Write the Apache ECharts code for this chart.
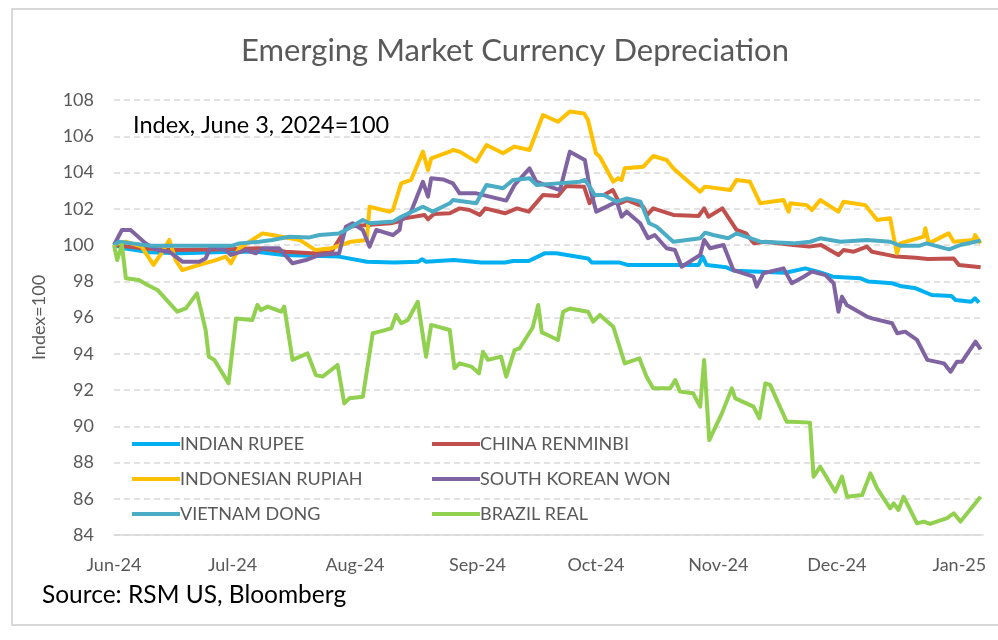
<!DOCTYPE html>
<html>
<head>
<meta charset="utf-8">
<script src="https://cdn.jsdelivr.net/npm/echarts@6/dist/echarts.min.js"></script>
<style>
  html, body { margin: 0; padding: 0; background: #fff; }
  #chart { width: 998px; height: 640px; }
</style>
</head>
<body>
<div id="chart"></div>
<script>
// x values: days since June 3, 2024 (index base date)
const tickDays = [0, 30, 61, 92, 122, 153, 183, 214];
const tickLabels = ['Jun-24', 'Jul-24', 'Aug-24', 'Sep-24', 'Oct-24', 'Nov-24', 'Dec-24', 'Jan-25'];
const yTicks = [84, 86, 88, 90, 92, 94, 96, 98, 100, 102, 104, 106, 108];

const seriesNames = ['INDIAN RUPEE', 'CHINA RENMINBI', 'INDONESIAN RUPIAH', 'SOUTH KOREAN WON', 'VIETNAM DONG', 'BRAZIL REAL'];

const indianRupee = [
  [0,100.0],[3,99.8],[9,99.6],[17,99.54],[30,99.63],[36,99.63],[43,99.45],[57,99.36],[64,99.08],
  [71,99.03],[77,99.08],[78,99.21],[79,99.08],[86,99.17],[93,99.03],[99,99.03],[101,99.12],
  [105,99.12],[109,99.54],[112,99.54],[120,99.26],[121,99.03],[128,99.03],[130,98.9],[148,98.9],
  [149,99.36],[150,98.9],[155,98.77],[157,98.58],[170,98.47],[175,98.71],[179,98.47],[182,98.25],
  [189,98.16],[191,97.98],[197,97.89],[199,97.74],[203,97.61],[207,97.24],[212,97.19],[213,96.97],
  [217,96.87],[218,97.06],[219,96.82]
];

const chinaRenminbi = [
  [0,100.0],[8,99.8],[15.6,99.72],[25,99.75],[36.8,99.82],[43.5,99.63],[50,99.54],[55,99.6],
  [59,101.0],[64,101.1],[70,101.2],[72,101.3],[73.5,101.47],[78.6,101.66],[79.5,101.42],
  [81,101.71],[85,101.75],[87.5,102.02],[90,101.93],[92.6,101.66],[94,102.02],[99,101.75],
  [102,102.02],[105,101.84],[108.6,102.76],[112.4,102.7],[114.5,103.26],[119,103.22],
  [120.4,102.3],[121.7,102.76],[124,102.76],[126.3,103.03],[128,102.3],[129.9,102.48],
  [134,102.11],[135,101.66],[136.5,102.02],[141.6,101.66],[148,101.6],[149.4,102.02],
  [150.5,101.56],[154,102.02],[157.6,100.83],[160,100.64],[162,100.09],[165,100.18],
  [172,100.0],[176,99.91],[179,100.0],[183.4,99.45],[184.7,99.72],[187.3,99.63],[190.6,99.91],
  [191.9,99.63],[198,99.36],[203,99.3],[206,99.23],[212.6,99.26],[213.9,98.9],[219.4,98.77]
];

const indonesianRupiah = [
  [0,100.04],[3,100.18],[7,99.91],[10,98.9],[12,99.54],[14,100.28],[15.6,99.17],[17.3,98.62],
  [21.6,98.9],[25.8,99.17],[28.3,99.36],[29.6,98.99],[31.7,99.82],[37.6,100.64],[40,100.55],
  [47,100.28],[51,99.72],[55,99.82],[60,100.18],[64,100.28],[64.7,102.11],[69.7,101.84],
  [70.6,101.93],[72.7,103.4],[75.2,103.59],[78.2,105.15],[79.5,104.14],[80.3,104.78],
  [85,105.15],[85.8,105.24],[87.5,105.15],[91.7,104.6],[94.3,105.52],[98.5,105.06],
  [101.4,105.43],[105.2,105.24],[108.6,107.17],[112.4,106.8],[115.4,107.36],[119,107.26],
  [120,106.9],[122,105.06],[123,104.87],[126.4,103.49],[127.6,103.68],[128.5,103.59],
  [129.3,104.23],[134,104.32],[136.5,104.91],[139.9,104.69],[141.6,104.23],[144,103.77],
  [148.4,102.94],[149.6,103.22],[156,103.03],[157.6,103.59],[161,103.49],[163.6,102.3],
  [169.5,102.48],[170.8,101.84],[171.2,102.3],[175.4,102.2],[176.7,101.93],[178.8,102.48],
  [183.4,101.84],[184.7,102.39],[190.2,102.2],[193.2,101.38],[196.5,101.47],[198.2,99.54],
  [199,100.09],[205,100.46],[205.4,100.92],[206.3,100.09],[211.3,100.64],[212.6,100.18],
  [217.6,100.28],[218,100.55],[219.4,100.09]
];

const southKoreanWon = [
  [0,100.0],[2,100.83],[4.2,100.83],[8,100.09],[11,99.72],[14,99.63],[17.3,99.08],[21.6,99.08],
  [23.2,99.26],[24.5,99.91],[28.3,99.72],[29.6,99.45],[33.4,99.72],[35.9,99.54],[37.6,99.82],
  [41.8,99.82],[45.2,98.99],[48.6,99.17],[52,99.45],[57,99.54],[58.7,101.01],[60.4,101.2],
  [63,100.83],[64.7,99.91],[66.4,100.83],[70.6,100.55],[72.3,100.83],[72.7,101.38],
  [75.2,101.84],[78.2,103.49],[79.5,102.67],[80.3,103.68],[83.3,103.62],[85.8,103.4],
  [87.5,102.85],[91.7,102.85],[99.3,102.45],[101.4,103.31],[105.2,104.23],[106.9,103.49],
  [110.3,103.22],[112.9,103.03],[115.4,105.15],[119.2,104.69],[120.4,103.22],[122.1,101.84],
  [125.5,102.2],[127.3,102.39],[128.5,101.56],[129.8,101.84],[133.2,101.2],[135.2,100.37],
  [136.9,100.55],[139.9,99.82],[142,99.72],[143.7,98.8],[148.4,99.45],[149.4,100.28],
  [150.9,99.82],[154.3,100.0],[156.8,98.62],[161.9,98.25],[162.7,97.7],[164.4,98.44],
  [169.5,98.71],[171.6,97.89],[174.6,98.25],[176.7,98.53],[180.1,98.34],[182.2,97.89],
  [183.4,96.32],[184.3,97.15],[185.5,96.69],[190.6,96.05],[191.9,95.95],[197,95.68],
  [198.3,95.13],[200.3,95.22],[203.3,94.76],[205.9,93.66],[210.1,93.47],[211.8,93.01],
  [213.4,93.56],[214.7,93.56],[218.1,94.67],[219.4,94.24]
];

const vietnamDong = [
  [0,100.0],[1.3,100.18],[4.6,100.09],[9,99.96],[30,99.96],[31.7,100.09],[36.8,100.18],
  [40,100.28],[44.4,100.46],[49.5,100.42],[52,100.55],[57,100.64],[58.7,100.83],[63,101.38],
  [64.7,101.2],[70.6,101.29],[72.7,101.56],[78.2,102.11],[80.7,101.84],[85,102.3],[85.8,102.48],
  [91.7,102.3],[94.3,103.31],[98.5,103.13],[101,103.59],[105.2,103.68],[107,103.31],
  [112.4,103.4],[117.9,103.49],[119.2,103.59],[120.4,103.22],[121.7,102.76],[124,102.76],
  [127.3,102.39],[129.9,102.57],[133.3,102.39],[135.5,101.2],[137.4,101.01],[141.6,100.18],
  [148.4,100.37],[149.6,100.68],[151.7,100.55],[155.5,100.37],[157.6,100.64],[163.6,100.18],
  [172,100.09],[176.3,100.18],[178.8,100.37],[183.9,100.18],[190.6,100.28],[196.5,100.18],
  [199,99.96],[204,99.96],[205.7,100.09],[211.4,99.76],[214.3,100.0],[219.4,100.24]
];

const brazilReal = [
  [0,100.0],[0.8,99.17],[2,100.0],[3,98.16],[6.3,98.07],[8.5,97.79],[11,97.52],[16,96.32],
  [18.2,96.5],[21,97.33],[23.2,95.31],[24,93.84],[25.4,93.66],[29,92.37],[30.9,95.95],
  [35,95.86],[36.3,96.69],[37.2,96.41],[38.9,96.6],[42.3,96.32],[43.1,96.6],[45.2,93.66],
  [49,94.02],[51.1,92.83],[52.8,92.74],[56.6,93.38],[58.3,91.26],[59.6,91.54],[63,91.63],
  [65.5,95.13],[67.2,95.22],[70.2,95.4],[71.4,96.14],[72.7,95.68],[74.4,95.86],[76.9,96.87],
  [79,93.84],[80.3,95.59],[85,95.31],[86.2,93.2],[87.5,93.47],[90.5,93.29],[92.4,92.92],
  [93.4,94.11],[94.7,93.66],[98,93.84],[99.3,92.74],[101.4,94.2],[102.7,94.3],[106,95.45],
  [107.4,96.69],[108.3,95.18],[110.3,94.98],[112.4,94.76],[113.7,96.32],[115.4,96.5],
  [120,96.32],[121.3,95.77],[123,96.14],[126.4,95.49],[129.3,93.47],[133,93.75],[134.8,92.74],
  [136.5,92.09],[140.8,92.09],[142.1,92.55],[143.3,91.91],[146.6,91.82],[148.4,91.08],
  [149.4,93.66],[150.7,89.24],[153.9,90.71],[156.4,92.09],[157.3,91.54],[161.9,91.08],
  [163.4,90.44],[164.9,92.37],[166.1,92.28],[170.3,90.25],[171.6,90.25],[176.2,90.2],
  [177.1,87.22],[178.8,87.77],[182.6,86.39],[184.3,87.22],[185.6,86.11],[189.4,86.21],
  [191.5,87.4],[193.2,86.57],[196.5,85.47],[197.4,85.75],[198.6,85.38],[199.9,86.11],
  [203.3,84.64],[205,84.74],[206.6,84.61],[210.9,84.93],[212.6,85.2],[214.3,84.74],[219.4,86.11]
];

const seriesData = [indianRupee, chinaRenminbi, indonesianRupiah, southKoreanWon, vietnamDong, brazilReal];
const colors = ['#00B0F0', '#C0504D', '#FFC000', '#8064A2', '#4BACC6', '#92D050'];

const FONT = 'Lato, "Open Sans", sans-serif';

const chart = echarts.init(document.getElementById('chart'));
const legendCommon = {
  orient: 'vertical',
  icon: 'rect',
  itemWidth: 48,
  itemHeight: 4,
  itemGap: 15,
  selectedMode: false,
  textStyle: { fontFamily: FONT, fontSize: 18, color: '#595959', lineHeight: 20, padding: [0, 0, 0, -5] }
};

chart.setOption({
  animation: false,
  backgroundColor: '#ffffff',
  color: colors,
  title: {
    text: 'Emerging Market Currency Depreciation',
    left: 236,
    top: 30,
    textStyle: { fontFamily: FONT, fontSize: 31, fontWeight: 'normal', color: '#595959' }
  },
  grid: { left: 114, right: 15, top: 100, bottom: 105, containLabel: false },
  legend: [
    Object.assign({ left: 127, top: 429, data: [seriesNames[0], seriesNames[2], seriesNames[4]] }, legendCommon),
    Object.assign({ left: 427, top: 429, data: [seriesNames[1], seriesNames[3], seriesNames[5]] }, legendCommon)
  ],
  xAxis: {
    type: 'value',
    min: 0,
    max: 220,
    axisLine: { show: true, onZero: false, lineStyle: { color: '#D9D9D9', width: 1.5 } },
    axisTick: { show: false },
    splitLine: { show: false },
    axisLabel: {
      customValues: tickDays,
      formatter: v => {
        const i = tickDays.indexOf(Math.round(v));
        return i >= 0 ? tickLabels[i] : '';
      },
      fontFamily: FONT, fontSize: 18, color: '#595959', margin: 21
    }
  },
  yAxis: {
    type: 'value',
    min: yTicks[0],
    max: yTicks[yTicks.length - 1],
    interval: 2,
    name: 'Index=100',
    nameLocation: 'middle',
    nameRotate: 90,
    nameGap: 66,
    nameTextStyle: { fontFamily: FONT, fontSize: 18, color: '#595959' },
    axisLine: { show: false },
    axisTick: { show: false },
    axisLabel: { fontFamily: FONT, fontSize: 18, color: '#595959', margin: 20 },
    splitLine: { lineStyle: { color: '#D9D9D9', type: [6, 4], width: 1.5 } }
  },
  graphic: [
    { type: 'rect', shape: { x: 12, y: 9, width: 1000, height: 616 }, style: { fill: 'none', stroke: '#D9D9D9', lineWidth: 2 }, silent: true },
    { type: 'text', left: 133, top: 113, style: { text: 'Index, June 3, 2024=100', fontFamily: FONT, fontSize: 23.5, fill: '#000000' } },
    { type: 'text', left: 42, top: 583, style: { text: 'Source: RSM US, Bloomberg', fontFamily: FONT, fontSize: 24.5, fill: '#000000' } }
  ],
  series: seriesNames.map((name, i) => ({
    name,
    type: 'line',
    data: seriesData[i],
    showSymbol: false,
    symbol: 'none',
    lineStyle: { width: 4, color: colors[i], join: 'round' },
    itemStyle: { color: colors[i] },
    emphasis: { disabled: true },
    z: 2 + i
  }))
});
</script>
</body>
</html>
